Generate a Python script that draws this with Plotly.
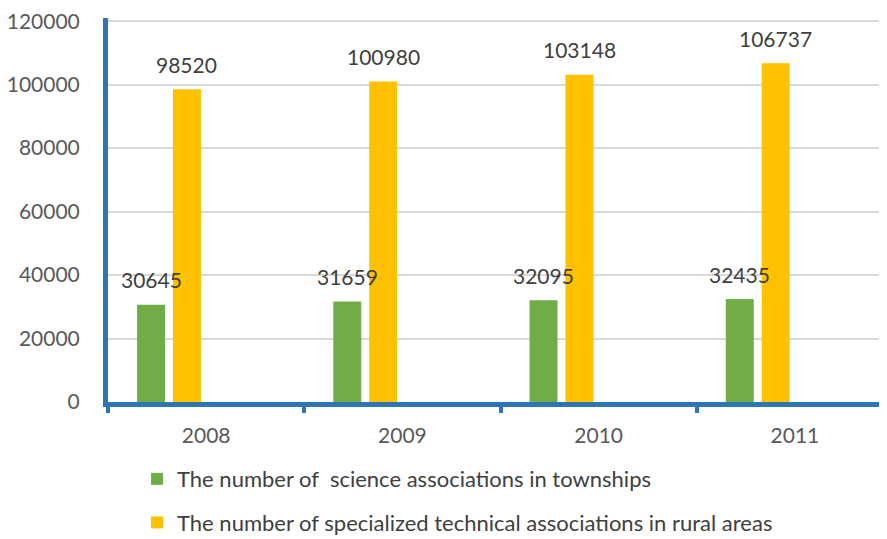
import plotly.graph_objects as go

years = ["2008", "2009", "2010", "2011"]
townships = [30645, 31659, 32095, 32435]
rural = [98520, 100980, 103148, 106737]
series_names = [
    "The number of  science associations in townships",
    "The number of specialized technical associations in rural areas",
]
y_ticks = [0, 20000, 40000, 60000, 80000, 100000, 120000]

GREEN = "#70AD47"
YELLOW = "#FFC000"
BLUE = "#2E75B6"
FONT = "Lato"

bar_w = 0.1425
offsets = [-0.352, -0.169]

fig = go.Figure()
for k, (vals, col, name) in enumerate([(townships, GREEN, series_names[0]),
                                         (rural, YELLOW, series_names[1])]):
    fig.add_trace(go.Bar(
        x=years, y=vals, name=name, marker_color=col,
        width=bar_w, offset=offsets[k], legendgroup=f"g{k}",
        marker_line_width=0,
    ))
    for i, v in enumerate(vals):
        fig.add_annotation(
            x=i + offsets[k] + bar_w / 2, y=v, text=str(v), showarrow=False,
            yanchor="middle", yshift=25,
            font=dict(family=FONT, size=21, color="#404040"),
        )

fig.update_layout(
    width=887, height=539,
    margin=dict(l=100, r=2, t=10, b=145, autoexpand=False),
    paper_bgcolor="white", plot_bgcolor="white",
    showlegend=True,
    legend=dict(
        orientation="v", x=0.037, xanchor="left", y=-0.146, yanchor="top",
        font=dict(family=FONT, size=22, color="#404040"),
        tracegroupgap=12, itemwidth=30,
    ),
    font=dict(family=FONT),
)
fig.update_xaxes(
    type="category", range=[-0.5, 3.5], automargin=False,
    showline=True, linewidth=5, linecolor=BLUE,
    ticks="outside", tickson="boundaries", ticklen=6, tickwidth=4, tickcolor=BLUE,
    tickfont=dict(family=FONT, size=21, color="#595959"),
    ticklabelstandoff=11,
    showgrid=False,
)
fig.update_yaxes(
    range=[0, 121000], tickvals=y_ticks, ticktext=[str(t) for t in y_ticks],
    automargin=False, ticklabeloverflow="allow",
    showline=True, linewidth=5, linecolor=BLUE,
    showgrid=True, gridcolor="#D9D9D9", gridwidth=1.5,
    zeroline=False,
    tickfont=dict(family=FONT, size=21, color="#595959"),
    ticklabelstandoff=19,
)

fig.write_html("out.html")
